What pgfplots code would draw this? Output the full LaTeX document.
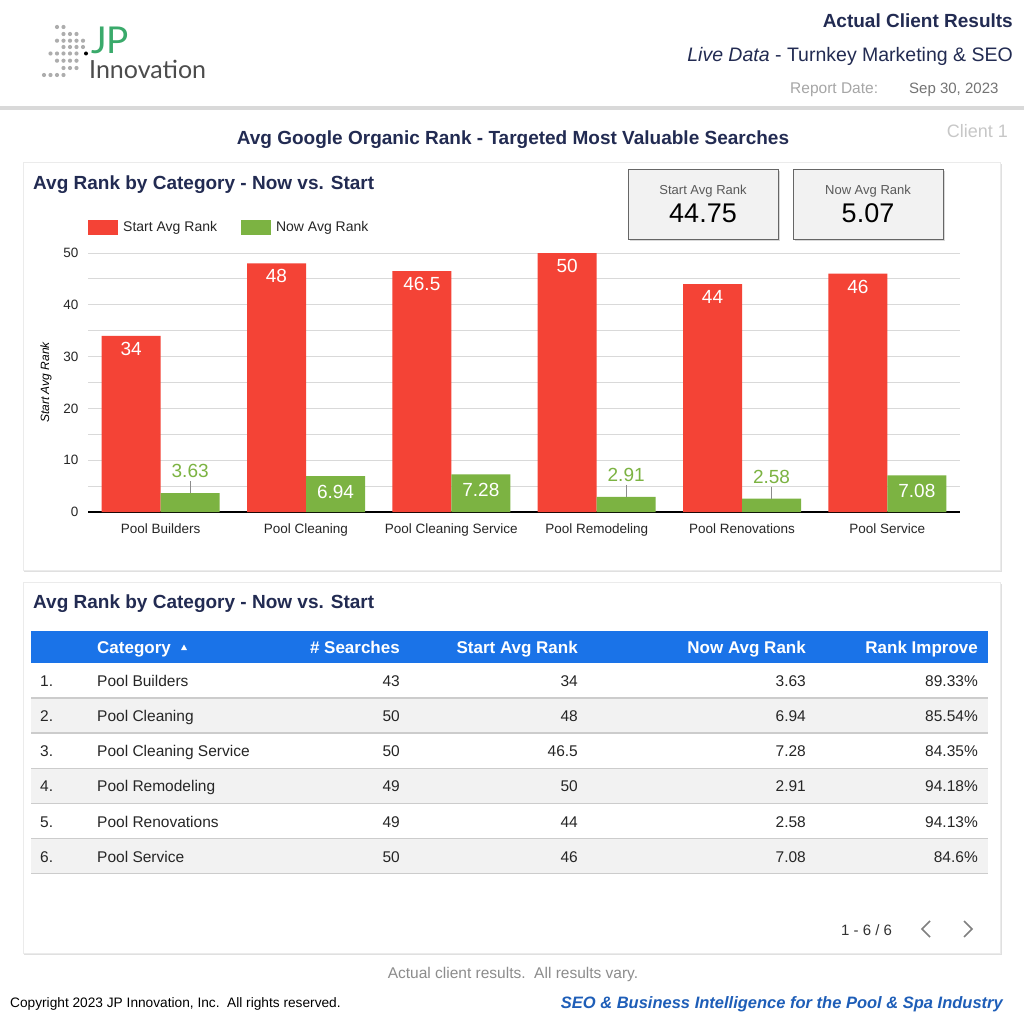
\documentclass[border=0pt]{standalone}
\usepackage{pgfplots}
\pgfplotsset{compat=1.18}
\usepackage{fontspec}
\setmainfont{Liberation Sans}
\newfontfamily\lato{Lato}
\definecolor{navy}{HTML}{222B52}
\definecolor{rd}{HTML}{F44336}
\definecolor{gr}{HTML}{7CB342}
\definecolor{tblue}{HTML}{1A73E8}
\definecolor{fblue}{HTML}{1E5EB8}
\definecolor{logogreen}{HTML}{3AAA6B}
\newcommand\fs[1]{\fontsize{#1}{#1}\selectfont}
\pgfplotsset{/pgf/number format/assume math mode=true}
\tikzset{t/.style={inner sep=0pt, yshift=-3.5pt},
  smallcheck/.code={%
    \pgfmathparse{\rawy<5}%
    \ifdim\pgfmathresult pt>0.5pt
      \pgfkeysalso{/tikz/anchor=south, /tikz/yshift=15pt, /tikz/text=gr,
        /tikz/append after command={([yshift=-3pt]\tikzlastnode.south) edge[draw=black!45, line width=1pt] ([yshift=-15pt]\tikzlastnode.south)}}%
    \else
      \pgfkeysalso{/tikz/anchor=north, /tikz/yshift=-9pt, /tikz/text=white}%
    \fi}}
\begin{document}
\begin{tikzpicture}[x=1pt,y=-1pt]
\path[fill=white] (0,0) rectangle (1024,1024);
% header
\fill[black!15] (0,106.5) rectangle (1024,110);
% logo
\foreach \xx/\yy in {57/27,63.5/27, 63.5/34,70/34,76.5/34, 57/40.7,63.5/40.7,70/40.7,76.5/40.7,83/40.7,
  63.5/47,70/47,76.5/47,83/47, 50.5/53.5,57/53.5,63.5/53.5,70/53.5,76.5/53.5,
  57/60.7,63.5/60.7,70/60.7,76.5/60.7, 63.5/68,70/68,76.5/68, 44/75,50.5/75,57/75,63.5/75}
  \fill[black!32] (\xx,\yy) circle (2.1);
\fill[black] (86,53.5) circle (2);
\node[anchor=base west, inner sep=0pt, text=logogreen] at (91,54) {\lato\fs{37}JP};
\node[anchor=base west, inner sep=0pt, text=black!70] at (89,79) {\lato\fs{25}Innovation};
\node[t, anchor=mid east, text=navy] at (1013,21) {\fs{19}\bfseries Actual Client Results};
\node[t, anchor=mid east, text=navy] at (1013,55) {\fs{19.5}\itshape Live Data\upshape{} - Turnkey Marketing \& SEO};
\node[t, anchor=mid west, text=black!35] at (790,87) {\fs{15.5}Report Date:};
\node[t, anchor=mid west, text=black!55] at (909,87) {\fs{15}Sep 30, 2023};
\node[t, anchor=mid, text=navy] at (513,138) {\fs{19}\bfseries Avg Google Organic Rank - Targeted Most Valuable Searches};
\node[t, anchor=mid east, text=black!22] at (1008,131) {\fs{18}Client 1};
% cards
\fill[black!12] (24,164) rectangle (1001.5,572);
\filldraw[fill=white, draw=black!8] (23,162) rectangle (1000,570);
\fill[black!12] (24,584) rectangle (1001.5,955);
\filldraw[fill=white, draw=black!8] (23,582) rectangle (1000,953);
\node[t, anchor=mid west, text=navy] at (33,183) {\fs{19}\bfseries Avg Rank by Category - Now vs. Start};
\node[t, anchor=mid west, text=navy] at (33,602) {\fs{19}\bfseries Avg Rank by Category - Now vs. Start};
% KPI boxes
\fill[black!15] (629.5,171.5) rectangle (780,241);
\fill[black!15] (794.5,171.5) rectangle (945,241);
\filldraw[fill=black!5, draw=black!60, line width=1pt] (628,170) rectangle (778,239);
\filldraw[fill=black!5, draw=black!60, line width=1pt] (793,170) rectangle (943,239);
\node[t, anchor=mid, text=black!65] at (703,188) {\fs{13}Start Avg Rank};
\node[t, anchor=mid] at (703,216) {\fs{27}44.75};
\node[t, anchor=mid, text=black!65] at (868,188) {\fs{13}Now Avg Rank};
\node[t, anchor=mid] at (868,216) {\fs{27}5.07};
% chart
\begin{axis}[
  at={(88pt,-512pt)}, anchor=south west, scale only axis,
  width=872pt, height=259pt,
  xmin=-0.5, xmax=5.5, ymin=0, ymax=50,
  ybar, bar width=59pt, clip=false,
  axis x line*=bottom, axis y line*=left,
  y axis line style={draw=none},
  x axis line style={black, line width=1.3pt},
  xtick={0,1,2,3,4,5},
  xticklabels={Pool Builders, Pool Cleaning, Pool Cleaning Service, Pool Remodeling, Pool Renovations, Pool Service},
  ytick={0,10,20,30,40,50}, minor ytick={5,15,25,35,45},
  ymajorgrids, yminorgrids,
  major grid style={draw=black!15, line width=1pt},
  minor grid style={draw=black!15, line width=1pt},
  major tick length=0pt, minor tick length=0pt,
  xticklabel style={font=\fs{13.5}, text=black!85, yshift=-8pt},
  yticklabel style={font=\fs{13.5}, text=black!85, xshift=-6pt},
  ylabel={Start Avg Rank},
  ylabel style={font=\fs{12}\itshape, at={(axis description cs:-0.0482,0.5)}, anchor=center},
  legend style={at={(axis description cs:0,1.1)}, anchor=west, draw=none, fill=none,
    font=\fs{14}, text=black!85, inner sep=0pt,
    nodes={inner xsep=5pt},
    /tikz/every even column/.append style={column sep=19pt}},
  legend columns=2,
  legend image code/.code={\fill[#1] (0pt,-7.5pt) rectangle (30pt,7.5pt);},
]
\addplot[fill=rd, draw=none, bar shift=-29.5pt, nodes near coords,
  every node near coord/.append style={anchor=north, yshift=-6pt, text=white, font=\fs{19}, inner sep=0pt}]
  coordinates {(0,34) (1,48) (2,46.5) (3,50) (4,44) (5,46)};
\addlegendentry{Start Avg Rank}
\addplot[fill=gr, draw=none, bar shift=29.5pt, nodes near coords,
  visualization depends on={y \as \rawy},
  every node near coord/.append style={font=\fs{19}, inner sep=0pt, smallcheck}]
  coordinates {(0,3.63) (1,6.94) (2,7.28) (3,2.91) (4,2.58) (5,7.08)};
\addlegendentry{Now Avg Rank}
\end{axis}
% table
\fill[tblue] (31,631) rectangle (988,663);
\foreach \i in {2,4,6} \fill[black!5] (31,{663+35.1*(\i-1)}) rectangle (988,{663+35.1*\i});
\foreach \i in {1,...,6} \draw[black!20, line width=1.5pt] (31,{663+35.1*\i}) -- (988,{663+35.1*\i});
\begin{scope}[every node/.style={t, text=white, font=\fs{17}\bfseries}]
\node[anchor=mid west] at (97,647) {Category};
\node[anchor=mid east] at (400,647) {\# Searches};
\node[anchor=mid east] at (578,647) {Start Avg Rank};
\node[anchor=mid east] at (806,647) {Now Avg Rank};
\node[anchor=mid east] at (978,647) {Rank Improve};
\end{scope}
\fill[white] (181,650) -- (184,644.5) -- (187,650) -- cycle;
\begin{scope}[every node/.style={t, text=black!85, font=\fs{15.5}}]
\foreach \i/\c/\s/\a/\b/\r in {1/Pool Builders/43/34/3.63/89.33\%, 2/Pool Cleaning/50/48/6.94/85.54\%,
   3/Pool Cleaning Service/50/46.5/7.28/84.35\%, 4/Pool Remodeling/49/50/2.91/94.18\%,
   5/Pool Renovations/49/44/2.58/94.13\%, 6/Pool Service/50/46/7.08/84.6\%}{
  \node[anchor=mid west] at (40,{680.5+35.1*(\i-1)}) {\i.};
  \node[anchor=mid west] at (97,{680.5+35.1*(\i-1)}) {\c};
  \node[anchor=mid east] at (400,{680.5+35.1*(\i-1)}) {\s};
  \node[anchor=mid east] at (578,{680.5+35.1*(\i-1)}) {\a};
  \node[anchor=mid east] at (806,{680.5+35.1*(\i-1)}) {\b};
  \node[anchor=mid east] at (978,{680.5+35.1*(\i-1)}) {\r};
}
\end{scope}
\node[t, anchor=mid west, text=black!80] at (841,929) {\fs{15}1 - 6 / 6};
\draw[black!50, line width=1.5pt] (930,921) -- (922,929) -- (930,937);
\draw[black!50, line width=1.5pt] (964,921) -- (972,929) -- (964,937);
% footer
\node[t, anchor=mid, text=black!45] at (513,972) {\fs{15.5}Actual client results.\ \ All results vary.};
\node[t, anchor=mid west, text=black] at (10,1001) {\fs{13.7}Copyright 2023 JP Innovation, Inc.\ \ All rights reserved.};
\node[t, anchor=mid east, text=fblue] at (1003,1002) {\fs{16.5}\bfseries\itshape SEO \& Business Intelligence for the Pool \& Spa Industry};
\end{tikzpicture}
\end{document}
